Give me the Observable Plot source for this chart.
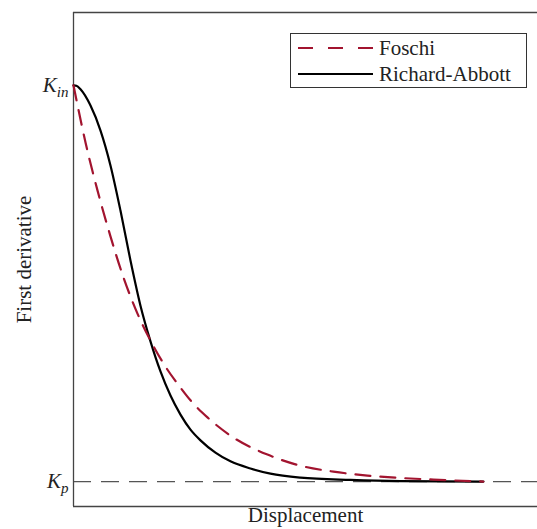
<!DOCTYPE html>
<html><head><meta charset="utf-8">
<script src="https://cdn.jsdelivr.net/npm/d3@7"></script>
<script src="https://cdn.jsdelivr.net/npm/@observablehq/plot@0.6"></script>
<style>
body{margin:0;background:#fff;}
#wrap{position:relative;width:537px;height:529px;overflow:hidden;}
#legend{position:absolute;left:290px;top:33px;}
</style></head><body><div id="wrap"></div>
<script>
// Richard-Abbott first derivative (normalised: 0 = K_p, 1 = K_in)
const dispRA  = [0, 0.07, 0.171, 0.415, 0.659, 0.902, 1.146, 1.390, 1.634, 1.878, 2.122, 2.366, 2.610, 2.854, 3.098, 3.463, 3.829, 4.317, 4.805, 5.537, 6.756, 7.976, 10];
const derivRA = [1.000, 0.999, 0.990, 0.949, 0.886, 0.798, 0.684, 0.558, 0.444, 0.354, 0.278, 0.217, 0.169, 0.131, 0.104, 0.073, 0.051, 0.033, 0.020, 0.010, 0.004, 0.001, 0];
// Foschi first derivative
const dispF  = [0, 0.171, 0.293, 0.585, 0.902, 1.220, 1.561, 1.878, 2.195, 2.610, 2.854, 3.268, 3.902, 4.732, 5.537, 6.341, 7.171, 7.976, 8.780, 10];
const derivF = [1.000, 0.914, 0.856, 0.735, 0.619, 0.515, 0.424, 0.356, 0.298, 0.237, 0.205, 0.162, 0.111, 0.068, 0.040, 0.025, 0.015, 0.009, 0.005, 0];

const seriesNames = ["Foschi", "Richard-Abbott"];
const yTicks = [0, 1];
const yTickLabels = ["K_p", "K_in"];
const xDomain = [0, 11.32];
const yDomain = [-0.063, 1.184];

const RED = "#a2142f";
const FONT = "Liberation Serif, Times New Roman, serif";

const ra = dispRA.map((d, i) => ({x: d, y: derivRA[i]}));
const fo = dispF.map((d, i) => ({x: d, y: derivF[i]}));

const chart = Plot.plot({
  width: 537, height: 529,
  marginLeft: 73, marginRight: 0, marginTop: 12, marginBottom: 23,
  style: {fontFamily: FONT, fontSize: "21px", background: "#fff", color: "#000"},
  x: {domain: xDomain, axis: null},
  y: {domain: yDomain, axis: null},
  marks: [
    Plot.ruleY([0], {stroke: "#555", strokeWidth: 1.2, strokeDasharray: "18,10"}),
    Plot.ruleX([xDomain[0]], {stroke: "#444", strokeWidth: 1.3}),
    Plot.ruleY([yDomain[0], yDomain[1]], {stroke: "#444", strokeWidth: 1.3}),
    Plot.line(ra, {x: "x", y: "y", stroke: "#000", strokeWidth: 2.2, curve: "monotone-x"}),
    Plot.line(fo, {x: "x", y: "y", stroke: RED, strokeWidth: 2.2, strokeDasharray: "15,10", curve: "monotone-x"}),
    Plot.axisY(yTicks, {tickSize: 0, tickPadding: 5, fontSize: 21, fill: "#222", label: null,
      tickFormat: (d) => yTickLabels[yTicks.indexOf(d)]}),
    Plot.text(["Displacement"], {frameAnchor: "bottom", dy: 15, fontSize: 21, fill: "#222"}),
    Plot.text(["First derivative"], {frameAnchor: "left", textAnchor: "middle", dx: -49, rotate: -90, fontSize: 21, fill: "#222"})
  ]
});

// subscripts for K_in / K_p
const ns = "http://www.w3.org/2000/svg";
chart.querySelectorAll('[aria-label="y-axis tick label"] text').forEach(t => {
  const s = t.textContent;
  if (!s.includes("_")) return;
  const [base, sub] = s.split("_");
  t.textContent = "";
  const a = document.createElementNS(ns, "tspan");
  a.setAttribute("font-style", "italic");
  a.textContent = base;
  const b = document.createElementNS(ns, "tspan");
  b.setAttribute("font-style", "italic");
  b.setAttribute("font-size", "15");
  b.setAttribute("dy", "5");
  b.textContent = sub;
  t.append(a, b);
});

const wrap = document.getElementById("wrap");
wrap.appendChild(chart);

// legend inside the plot area (top right)
const leg = d3.create("svg").attr("id", "legend").attr("width", 238).attr("height", 56);
leg.append("rect").attr("x", 0.5).attr("y", 0.5).attr("width", 236).attr("height", 54)
  .attr("fill", "#fff").attr("stroke", "#333").attr("stroke-width", 1);
const styles = [
  {stroke: RED, dash: "15,15"},
  {stroke: "#000", dash: null}
];
seriesNames.forEach((name, i) => {
  const yLine = 15 + i * 26;
  const l = leg.append("line").attr("x1", 8).attr("x2", 83).attr("y1", yLine).attr("y2", yLine)
    .attr("stroke", styles[i].stroke).attr("stroke-width", 2.2);
  if (styles[i].dash) l.attr("stroke-dasharray", styles[i].dash);
  leg.append("text").attr("x", 89).attr("y", yLine + 6.5)
    .attr("font-family", FONT).attr("font-size", 21).attr("fill", "#222").text(name);
});
wrap.appendChild(leg.node());
</script>
</body></html>
